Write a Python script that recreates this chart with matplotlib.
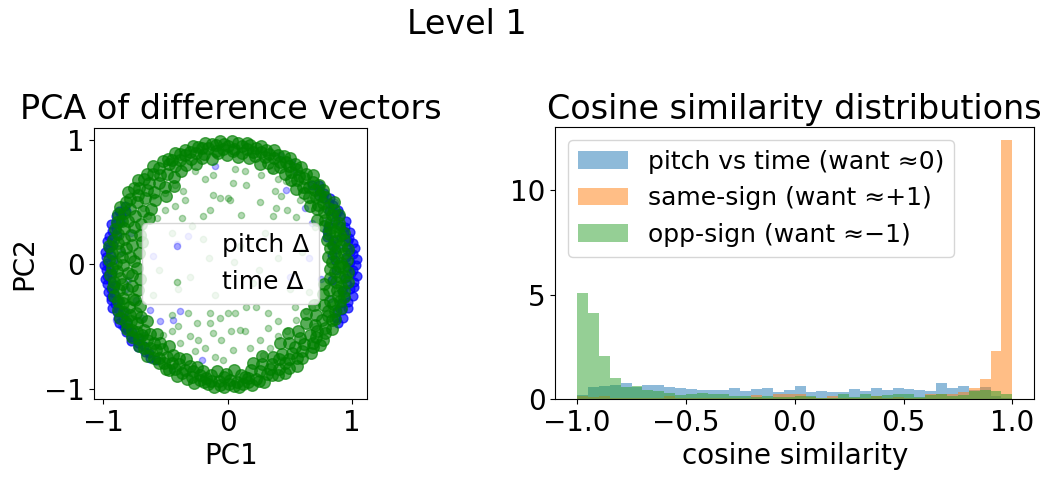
import numpy as np
import matplotlib

matplotlib.use("Agg")
import matplotlib.pyplot as plt

plt.rcParams["font.size"] = 20

# ---- left panel: PCA of difference vectors ----
# dense outer band of the pitch points, polar (degrees, radius)
pitch_band_deg = [
	150.5, 152.1, 153.8, 155.2, 156.7, 158.3, 159.6, 161.1, 162.4, 163.9,
	165.2, 166.5, 167.8, 169.1, 170.3, 171.6, 172.8, 174.1, 175.3, 176.6,
	177.9, 179.2, 180.4, 181.7, 182.9, 184.2, 185.5, 186.8, 188.1, 189.3,
	190.6, 191.9, 193.2, 194.4, 195.7, 197.0, 198.3, 199.6, 200.8, 202.1,
	203.4, 204.7, 206.0, 207.3, 208.6, 209.9, 211.3, 212.6, 214.0, 215.4,
	216.9, 218.3, 219.8, 221.4, 223.0, 224.7, 226.5, 228.4, 230.6, 233.1,
	-28.0, -26.4, -24.9, -23.1, -21.6, -20.2, -18.7, -17.3, -15.8, -14.4,
	-13.1, -11.7, -10.4, -9.2, -7.9, -6.6, -5.3, -4.1, -2.8, -1.5,
	-0.3, 0.9, 2.2, 3.4, 4.7, 5.9, 7.2, 8.4, 9.7, 11.0,
	12.3, 13.6, 14.9, 16.2, 17.6, 19.0, 20.4, 21.8, 23.3, 24.8,
	26.3, 27.9, 29.5, 31.2, 32.9, 34.7, 36.6, 38.6, 40.8, 43.2,
	2.5, 5.1, 7.8, 10.4, 12.9, 15.5, -3.2, -8.7, 18.3, 21.1,
]
pitch_band_r = [
	0.95, 0.92, 0.97, 0.94, 0.98, 0.93, 0.96, 0.99, 0.94, 0.97,
	0.92, 0.98, 0.95, 0.99, 0.93, 0.97, 0.96, 0.99, 0.94, 0.98,
	0.92, 0.97, 0.99, 0.95, 0.98, 0.93, 0.97, 0.99, 0.95, 0.98,
	0.92, 0.96, 0.99, 0.94, 0.97, 0.98, 0.93, 0.96, 0.99, 0.95,
	0.97, 0.92, 0.98, 0.95, 0.99, 0.93, 0.97, 0.96, 0.98, 0.94,
	0.97, 0.99, 0.93, 0.96, 0.98, 0.94, 0.97, 0.95, 0.98, 0.96,
	1.00, 0.97, 1.02, 0.95, 0.99, 1.03, 0.96, 1.01, 0.98, 1.04,
	0.94, 1.00, 1.03, 0.97, 1.02, 0.95, 1.04, 0.99, 1.01, 0.96,
	1.03, 0.98, 1.04, 0.95, 1.01, 0.99, 1.03, 0.96, 1.02, 0.98,
	1.00, 0.94, 1.02, 0.97, 0.99, 0.95, 1.01, 0.93, 0.98, 0.96,
	0.99, 0.92, 0.97, 0.95, 0.98, 0.93, 0.96, 0.94, 0.97, 0.93,
	0.86, 0.84, 0.88, 0.85, 0.87, 0.83, 0.87, 0.85, 0.84, 0.86,
]
# loose pitch points
pitch_x = [
	0.55, 0.47, 0.75, 0.62, 0.80, 0.72, 0.86, 0.52, 0.42, 0.90, 0.68, 0.82,
	-0.10, -0.41, -0.32, -0.60, -0.38, -0.44, -0.54, -0.62, -0.74, -0.69,
	-0.80, -0.67, -0.45, -0.21, -0.77, 0.88, 0.82, 0.93, 0.50, 0.65, 0.75,
	-0.85, -0.82, -0.88, -0.78, -0.84, -0.90, -0.86,
]
pitch_y = [
	0.74, 0.60, 0.62, 0.45, 0.35, 0.55, 0.50, 0.82, 0.88, 0.42, 0.33, 0.22,
	0.79, 0.16, 0.23, 0.07, -0.38, -0.45, -0.46, -0.37, -0.29, -0.43,
	-0.13, -0.57, -0.85, -0.77, -0.61, -0.35, -0.28, -0.20, -0.10, 0.05, -0.12,
	0.10, -0.20, -0.35, 0.25, 0.35, -0.45, -0.50,
]

# dense ring of the time points, polar (degrees, radius)
time_ring_deg = [
	0.5, 1.4, 2.2, 3.7, 4.1, 5.6, 6.3, 7.2, 8.8, 9.1, 10.4, 11.7, 12.3, 13.5, 14.9, 15.2, 16.6, 17.1, 18.4, 19.6,
	20.3, 21.8, 22.4, 23.9, 24.2, 25.5, 26.7, 27.1, 28.6, 29.4, 30.2, 31.8, 32.5, 33.3, 34.7, 35.1, 36.9, 37.4, 38.2, 39.5,
	40.6, 41.2, 42.9, 43.4, 44.1, 45.7, 46.3, 47.8, 48.5, 49.2, 50.6, 51.3, 52.8, 53.1, 54.4, 55.9, 56.2, 57.7, 58.3, 59.6,
	60.2, 61.7, 62.4, 63.1, 64.8, 65.3, 66.6, 67.9, 68.2, 69.5, 70.8, 71.4, 72.1, 73.6, 74.3, 75.9, 76.5, 77.2, 78.7, 79.4,
	80.5, 81.1, 82.8, 83.3, 84.6, 85.2, 86.9, 87.4, 88.1, 89.7, 90.3, 91.8, 92.2, 93.5, 94.9, 95.4, 96.1, 97.6, 98.3, 99.8,
	100.4, 101.9, 102.3, 103.6, 104.2, 105.7, 106.1, 107.5, 108.8, 109.3, 110.6, 111.2, 112.9, 113.4, 114.7, 115.1, 116.5, 117.8, 118.3, 119.6,
	120.2, 121.6, 122.1, 123.8, 124.3, 125.5, 126.9, 127.2, 128.7, 129.4, 130.1, 131.6, 132.3, 133.9, 134.5, 135.2, 136.8, 137.3, 138.6, 139.1,
	140.7, 141.3, 142.5, 143.9, 144.2, 145.6, 146.1, 147.8, 148.4, 149.7, 150.3, 151.9, 152.2, 153.6, 154.8, 155.1, 156.5, 157.9, 158.4, 159.2,
	160.6, 161.2, 162.8, 163.3, 164.7, 165.4, 166.1, 167.9, 168.5, 169.2, 170.8, 171.3, 172.6, 173.1, 174.4, 175.9, 176.3, 177.7, 178.2, 179.5,
	180.3, 181.7, 182.2, 183.5, 184.9, 185.4, 186.6, 187.1, 188.8, 189.3, 190.5, 191.2, 192.7, 193.4, 194.1, 195.6, 196.2, 197.8, 198.5, 199.9,
	200.4, 201.1, 202.6, 203.3, 204.8, 205.2, 206.7, 207.4, 208.1, 209.9, 210.5, 211.3, 212.8, 213.2, 214.6, 215.1, 216.9, 217.4, 218.2, 219.7,
	220.3, 221.8, 222.5, 223.1, 224.7, 225.3, 226.9, 227.2, 228.6, 229.4, 230.1, 231.7, 232.2, 233.8, 234.5, 235.1, 236.6, 237.3, 238.9, 239.4,
	240.6, 241.2, 242.9, 243.4, 244.1, 245.8, 246.3, 247.5, 248.2, 249.7, 250.4, 251.9, 252.3, 253.6, 254.2, 255.8, 256.5, 257.1, 258.7, 259.3,
	260.8, 261.4, 262.1, 263.7, 264.3, 265.6, 266.2, 267.9, 268.5, 269.1, 270.7, 271.3, 272.8, 273.2, 274.6, 275.4, 276.9, 277.1, 278.5, 279.8,
	280.2, 281.6, 282.3, 283.9, 284.4, 285.1, 286.7, 287.2, 288.8, 289.5, 290.3, 291.6, 292.1, 293.7, 294.4, 295.9, 296.2, 297.6, 298.3, 299.8,
	300.5, 301.1, 302.8, 303.4, 304.2, 305.7, 306.3, 307.9, 308.4, 309.1, 310.6, 311.2, 312.9, 313.5, 314.1, 315.8, 316.4, 317.2, 318.7, 319.3,
	320.6, 321.3, 322.9, 323.2, 324.7, 325.1, 326.8, 327.4, 328.2, 329.6, 330.3, 331.9, 332.5, 333.1, 334.7, 335.2, 336.6, 337.3, 338.8, 339.4,
	340.1, 341.7, 342.4, 343.8, 344.3, 345.5, 346.9, 347.2, 348.6, 349.1, 350.8, 351.4, 352.2, 353.7, 354.3, 355.9, 356.5, 357.1, 358.6, 359.3,
]
time_ring_r = [
	0.91, 0.84, 0.96, 0.88, 0.81, 0.94, 0.87, 0.97, 0.83, 0.92, 0.86, 0.95, 0.89, 0.82, 0.93, 0.97, 0.85, 0.90, 0.94, 0.87,
	0.95, 0.83, 0.90, 0.98, 0.86, 0.93, 0.80, 0.96, 0.88, 0.92, 0.99, 0.84, 0.91, 0.87, 0.95, 0.81, 0.93, 0.89, 0.97, 0.85,
	0.92, 0.97, 0.84, 0.90, 0.95, 0.87, 0.99, 0.82, 0.93, 0.96, 0.88, 0.91, 0.98, 0.85, 0.94, 0.90, 0.97, 0.86, 0.93, 0.99,
	0.95, 0.89, 0.98, 0.92, 0.86, 0.97, 0.93, 0.99, 0.88, 0.95, 0.91, 0.97, 0.85, 0.94, 0.99, 0.90, 0.96, 0.93, 0.87, 0.98,
	0.94, 0.99, 0.90, 0.96, 0.87, 0.98, 0.93, 0.91, 0.99, 0.95, 0.88, 0.97, 0.93, 0.99, 0.90, 0.96, 0.92, 0.98, 0.86, 0.95,
	0.99, 0.91, 0.96, 0.88, 0.97, 0.93, 0.99, 0.85, 0.95, 0.90, 0.98, 0.94, 0.87, 0.97, 0.92, 0.99, 0.84, 0.95, 0.90, 0.97,
	0.93, 0.82, 0.98, 0.87, 0.76, 0.95, 0.90, 0.99, 0.80, 0.94, 0.86, 0.97, 0.74, 0.91, 0.96, 0.83, 0.99, 0.88, 0.78, 0.94,
	0.97, 0.85, 0.91, 0.76, 0.99, 0.88, 0.94, 0.80, 0.96, 0.73, 0.90, 0.98, 0.84, 0.93, 0.77, 0.97, 0.87, 0.92, 0.81, 0.95,
	0.88, 0.74, 0.95, 0.81, 0.91, 0.71, 0.86, 0.94, 0.78, 0.90, 0.83, 0.96, 0.72, 0.88, 0.93, 0.79, 0.85, 0.95, 0.75, 0.90,
	0.84, 0.93, 0.73, 0.89, 0.80, 0.95, 0.77, 0.87, 0.92, 0.71, 0.86, 0.94, 0.79, 0.90, 0.83, 0.95, 0.75, 0.88, 0.93, 0.81,
	0.90, 0.80, 0.95, 0.86, 0.92, 0.78, 0.97, 0.88, 0.83, 0.94, 0.90, 0.81, 0.96, 0.87, 0.93, 0.79, 0.91, 0.97, 0.85, 0.89,
	0.93, 0.84, 0.97, 0.89, 0.80, 0.95, 0.87, 0.92, 0.98, 0.83, 0.90, 0.96, 0.86, 0.93, 0.81, 0.97, 0.89, 0.94, 0.85, 0.98,
	0.91, 0.97, 0.85, 0.94, 0.89, 0.99, 0.83, 0.95, 0.92, 0.87, 0.98, 0.90, 0.95, 0.86, 0.99, 0.92, 0.96, 0.88, 0.97, 0.93,
	0.98, 0.90, 0.95, 0.99, 0.86, 0.94, 0.97, 0.91, 0.99, 0.88, 0.96, 0.93, 0.98, 0.85, 0.95, 0.99, 0.90, 0.97, 0.92, 0.96,
	0.93, 0.99, 0.87, 0.95, 0.82, 0.97, 0.90, 0.99, 0.85, 0.94, 0.79, 0.96, 0.91, 0.88, 0.98, 0.83, 0.94, 0.99, 0.87, 0.92,
	0.97, 0.84, 0.91, 0.76, 0.99, 0.88, 0.94, 0.80, 0.96, 0.86, 0.92, 0.74, 0.98, 0.89, 0.83, 0.95, 0.78, 0.93, 0.99, 0.87,
	0.92, 0.98, 0.79, 0.90, 0.96, 0.85, 0.93, 0.75, 0.99, 0.88, 0.82, 0.95, 0.91, 0.97, 0.77, 0.89, 0.94, 0.84, 0.98, 0.90,
	0.87, 0.95, 0.80, 0.92, 0.97, 0.84, 0.90, 0.96, 0.79, 0.93, 0.88, 0.98, 0.83, 0.91, 0.95, 0.86, 0.97, 0.82, 0.93, 0.89,
]
# loose time points inside the ring
time_x = [
	-0.12, -0.06, 0.00, -0.26, -0.18, -0.34, -0.42, -0.50, -0.64, -0.57, -0.14, -0.20, -0.37, -0.29, -0.42, -0.50, -0.36, -0.12,
	0.06, 0.14, 0.27, 0.35, 0.40, 0.47, 0.04, 0.15, 0.26, 0.38, 0.43, 0.39, 0.48, 0.55, 0.11, 0.02, 0.36, 0.58, 0.66, 0.52,
	-0.45, -0.20, 0.10, 0.30, -0.55, -0.30, 0.05, 0.20, -0.10, 0.50, 0.60, -0.60, 0.40, -0.15, -0.40, 0.25, 0.65,
	-0.41, -0.32, -0.25, -0.14, -0.06, -0.12, -0.24, -0.30, -0.38, -0.45, -0.52, -0.40, -0.18, -0.26, -0.04, -0.10, -0.05, 0.03, -0.45, -0.14, 0.00,
	0.06, 0.14, 0.10, 0.18, 0.26, 0.32, 0.40, 0.40, 0.48, 0.55, 0.32, 0.04, 0.28, 0.44, 0.34, 0.54, 0.63, 0.23, 0.15, 0.68, 0.60, 0.70,
	-0.60, -0.68, 0.62, 0.70, -0.70, 0.72,
]
time_y = [
	0.56, 0.53, 0.53, 0.75, 0.69, 0.52, 0.47, 0.44, 0.39, 0.37, 0.44, 0.39, 0.37, 0.31, 0.64, 0.57, 0.59, 0.72,
	0.77, 0.75, 0.72, 0.76, 0.69, 0.67, 0.65, 0.64, 0.50, 0.59, 0.55, 0.45, 0.44, 0.38, 0.40, 0.52, 0.39, 0.52, 0.52, 0.65,
	0.25, 0.20, 0.15, 0.25, -0.05, -0.10, 0.02, -0.15, -0.25, -0.20, 0.10, -0.25, 0.05, 0.05, -0.20, -0.05, -0.22,
	-0.14, -0.39, -0.47, -0.47, -0.43, -0.55, -0.61, -0.58, -0.63, -0.54, -0.57, -0.50, -0.67, -0.70, -0.77, -0.75, -0.61, -0.54, -0.41, -0.39, -0.39,
	-0.39, -0.54, -0.53, -0.67, -0.61, -0.39, -0.46, -0.58, -0.54, -0.45, -0.51, -0.69, -0.73, -0.77, -0.67, -0.34, -0.38, -0.34, -0.34, -0.34, -0.61, -0.50,
	0.55, 0.45, 0.60, 0.30, -0.45, -0.30,
]

# ---- right panel: cosine similarity histograms (density, 40 bins on [-1, 1]) ----
pitch_vs_time = [
	0.18, 0.56, 0.61, 0.65, 0.77, 0.55, 0.65, 0.65, 0.57, 0.52,
	0.49, 0.45, 0.45, 0.45, 0.51, 0.37, 0.48, 0.51, 0.32, 0.42,
	0.60, 0.33, 0.40, 0.33, 0.33, 0.49, 0.40, 0.54, 0.43, 0.54,
	0.49, 0.43, 0.40, 0.78, 0.54, 0.64, 0.45, 0.57, 0.12, 0.05,
]
same_sign = [
	0.14, 0.10, 0.14, 0.06, 0.05, 0.05, 0.05, 0.05, 0.13, 0.05,
	0.06, 0.05, 0.05, 0.04, 0.05, 0.06, 0.18, 0.06, 0.24, 0.24,
	0.22, 0.08, 0.06, 0.12, 0.06, 0.05, 0.06, 0.13, 0.07, 0.08,
	0.05, 0.06, 0.25, 0.22, 0.22, 0.33, 0.53, 0.97, 2.31, 12.39,
]
opp_sign = [
	5.07, 4.11, 2.06, 1.00, 0.59, 0.61, 0.41, 0.37, 0.29, 0.21,
	0.26, 0.29, 0.24, 0.24, 0.13, 0.13, 0.10, 0.13, 0.08, 0.10,
	0.13, 0.14, 0.05, 0.06, 0.22, 0.11, 0.25, 0.12, 0.18, 0.25,
	0.22, 0.08, 0.18, 0.22, 0.13, 0.18, 0.37, 0.43, 0.40, 0.24,
]
hist_labels = [
	"pitch vs time (want \u22480)",
	"same-sign (want \u2248+1)",
	"opp-sign (want \u2248\u22121)",
]


def polar_to_xy(deg, r):
	a = np.deg2rad(np.asarray(deg))
	r = np.asarray(r)
	return r * np.cos(a), r * np.sin(a)


fig = plt.figure(figsize=(10.51, 4.8), dpi=100)
ax1 = fig.add_axes([0.0897, 0.1688, 0.2598, 0.5652])
ax2 = fig.add_axes([0.5284, 0.1688, 0.4555, 0.566])

# left: scatter (dense bands drawn with bigger, stronger dots)
bx, by = polar_to_xy(pitch_band_deg, pitch_band_r)
ax1.scatter(bx, by, s=40, c="blue", alpha=0.7)
ax1.scatter(pitch_x, pitch_y, s=20, c="blue", alpha=0.3, label="pitch \u0394")
gx, gy = polar_to_xy(time_ring_deg, time_ring_r)
ax1.scatter(gx, gy, s=70, c="green", alpha=0.65)
ax1.scatter(time_x, time_y, s=20, c="green", alpha=0.3, label="time \u0394")
ax1.set_xlim(-1.071, 1.121)
ax1.set_ylim(-1.084, 1.099)
ax1.set_xticks([-1, 0, 1])
ax1.set_yticks([-1, 0, 1])
ax1.set_xlabel("PC1")
ax1.set_ylabel("PC2")
ax1.set_title("PCA of difference vectors", fontsize=24)
ax1.legend(loc="center", fontsize=18)

# right: histograms
edges = np.linspace(-1, 1, len(pitch_vs_time) + 1)
centers = (edges[:-1] + edges[1:]) / 2
for heights, label in zip([pitch_vs_time, same_sign, opp_sign], hist_labels):
	ax2.hist(centers, bins=edges, weights=heights, alpha=0.5, label=label)
ax2.set_xlabel("cosine similarity")
ax2.set_title("Cosine similarity distributions", fontsize=24)
ax2.legend(loc="upper left", fontsize=18)

fig.text(467 / 1051, 1 - 24 / 480, "Level 1", ha="center", va="center", fontsize=24)

fig.savefig("out.png", dpi=100)
